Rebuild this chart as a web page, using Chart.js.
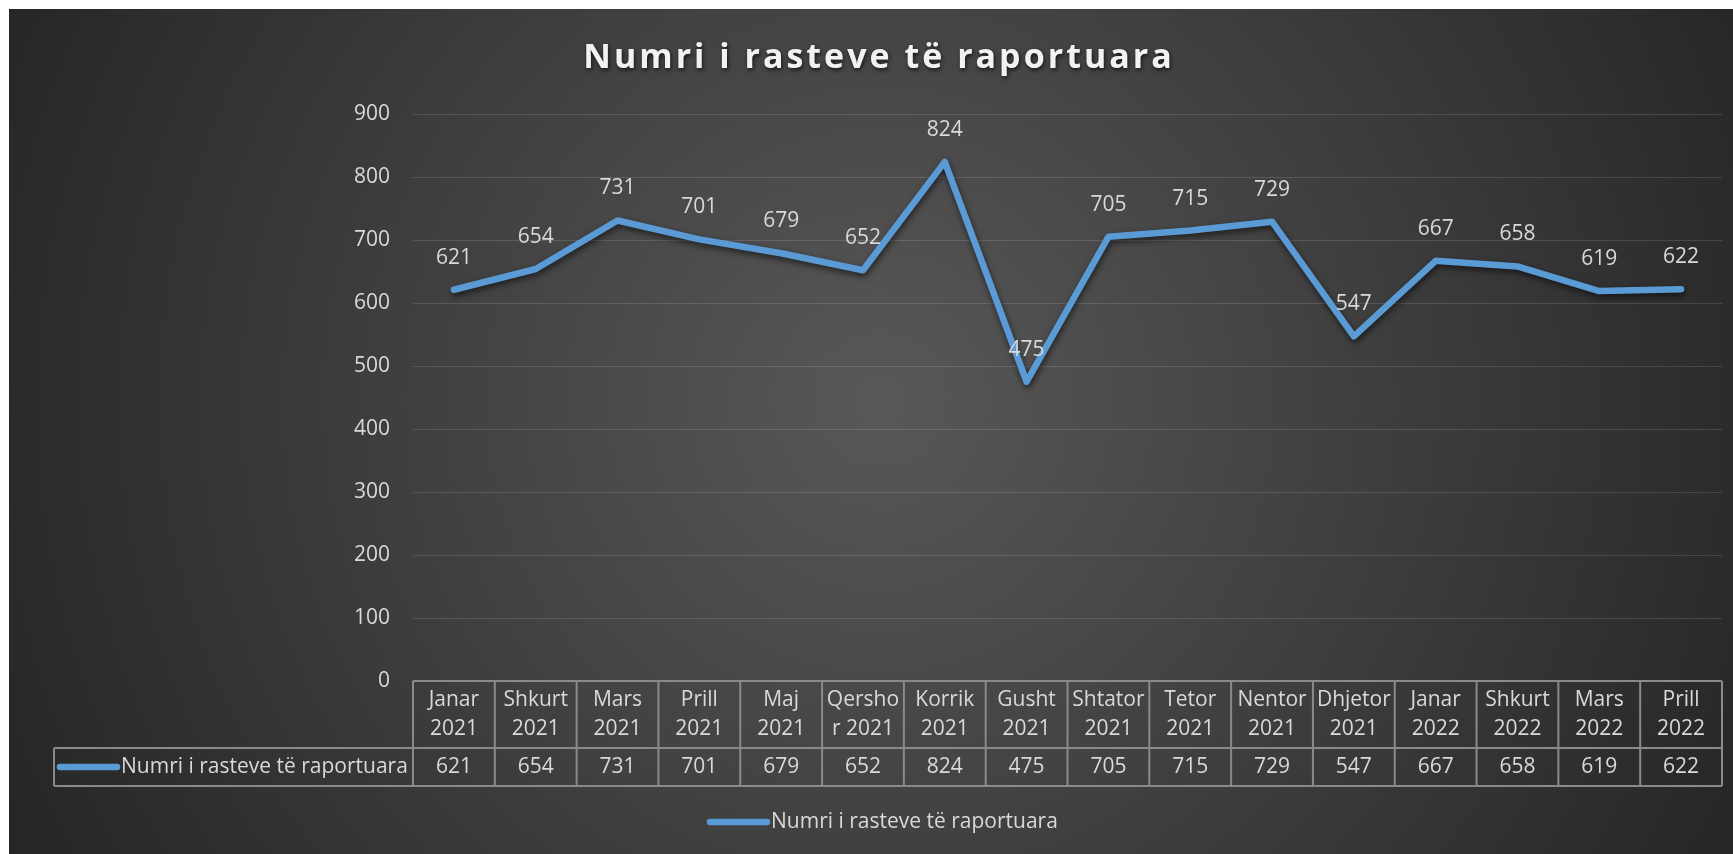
<!DOCTYPE html>
<html>
<head>
<meta charset="utf-8">
<script src="https://cdn.jsdelivr.net/npm/chart.js@4.4.1/dist/chart.umd.min.js"></script>
<style>
    html, body { margin: 0; padding: 0; background: #ffffff; }
    #lineChart { display: block; }
</style>
</head>
<body>
<canvas id="lineChart" width="1733" height="854"></canvas>
<script>
const chartTitle = "Numri i rasteve të raportuara";
const seriesName = "Numri i rasteve të raportuara";

// month labels, already split in two lines like the excel data table does it
const categories = [
    ["Janar", "2021"], ["Shkurt", "2021"], ["Mars", "2021"], ["Prill", "2021"],
    ["Maj", "2021"], ["Qersho", "r 2021"], ["Korrik", "2021"], ["Gusht", "2021"],
    ["Shtator", "2021"], ["Tetor", "2021"], ["Nentor", "2021"], ["Dhjetor", "2021"],
    ["Janar", "2022"], ["Shkurt", "2022"], ["Mars", "2022"], ["Prill", "2022"]
];
const cases = [621, 654, 731, 701, 679, 652, 824, 475, 705, 715, 729, 547, 667, 658, 619, 622];

const yMin = 0;
const yMax = 900;
const yStep = 100;

const lineColor = "#5B9BD5";
const textColor = "#d9d9d9";
const tableColor = "#8a8a8a";
const fontFamily = "'Open Sans', 'Liberation Sans', sans-serif";

// where the table rows sit (under the plot area)
const headerBottom = 748;
const tableBottom = 786;
const tableLeft = 54;

const backgroundPlugin = {
    id: "background",
    beforeDraw: (chart) => {
        const ctx = chart.ctx;
        ctx.save();
        ctx.fillStyle = "#ffffff";
        ctx.fillRect(0, 0, chart.width, chart.height);
        const grad = ctx.createRadialGradient(880, 400, 0, 880, 400, 960);
        grad.addColorStop(0, "#585858");
        grad.addColorStop(1, "#262626");
        ctx.fillStyle = grad;
        ctx.fillRect(9, 9, chart.width - 9, chart.height - 9);
        ctx.restore();
    },
    beforeDatasetDraw: (chart) => {
        const ctx = chart.ctx;
        ctx.save();
        ctx.shadowColor = "rgba(0, 0, 0, 0.6)";
        ctx.shadowBlur = 6;
        ctx.shadowOffsetX = 1;
        ctx.shadowOffsetY = 3;
    },
    afterDatasetDraw: (chart) => {
        chart.ctx.restore();
    }
};

const drawLegendKey = function (ctx, x1, x2, y) {
    ctx.save();
    ctx.strokeStyle = lineColor;
    ctx.lineWidth = 6.5;
    ctx.lineCap = "round";
    ctx.beginPath();
    ctx.moveTo(x1, y);
    ctx.lineTo(x2, y);
    ctx.stroke();
    ctx.restore();
}

const overlayPlugin = {
    id: "overlay",
    afterDraw: (chart) => {
        const ctx = chart.ctx;
        const xScale = chart.scales.x;
        const area = chart.chartArea;
        const meta = chart.getDatasetMeta(0);

        // title
        ctx.save();
        ctx.font = "bold 34px " + fontFamily;
        ctx.letterSpacing = "3px";
        ctx.textAlign = "center";
        ctx.textBaseline = "middle";
        ctx.shadowColor = "rgba(0, 0, 0, 0.7)";
        ctx.shadowBlur = 4;
        ctx.shadowOffsetX = 1;
        ctx.shadowOffsetY = 2;
        ctx.fillStyle = "#f2f2f2";
        ctx.fillText(chartTitle, 879, 58);
        ctx.restore();

        // data labels above points
        ctx.save();
        ctx.font = "21px " + fontFamily;
        ctx.fillStyle = textColor;
        ctx.textAlign = "center";
        ctx.textBaseline = "middle";
        meta.data.forEach((pt, i) => {
            ctx.fillText(String(cases[i]), pt.x, pt.y - 32);
        });
        ctx.restore();

        // data table
        const half = (xScale.getPixelForValue(1) - xScale.getPixelForValue(0)) / 2;
        const top = area.bottom;
        ctx.save();
        ctx.strokeStyle = tableColor;
        ctx.lineWidth = 2;
        ctx.beginPath();
        ctx.moveTo(area.left, top);
        ctx.lineTo(area.right, top);
        ctx.moveTo(tableLeft, headerBottom);
        ctx.lineTo(area.right, headerBottom);
        ctx.moveTo(tableLeft, tableBottom);
        ctx.lineTo(area.right, tableBottom);
        ctx.moveTo(tableLeft, headerBottom);
        ctx.lineTo(tableLeft, tableBottom);
        for (let i = 0; i <= categories.length; i++) {
            const x = xScale.getPixelForValue(i) - half;
            ctx.moveTo(x, top);
            ctx.lineTo(x, tableBottom);
        }
        ctx.stroke();

        ctx.font = "21px " + fontFamily;
        ctx.fillStyle = textColor;
        ctx.textAlign = "center";
        ctx.textBaseline = "middle";
        const rowMid = (top + headerBottom) / 2;
        const lineH = 28.6;
        categories.forEach((lines, i) => {
            const x = xScale.getPixelForValue(i);
            lines.forEach((txt, k) => {
                ctx.fillText(txt, x, rowMid + (k - (lines.length - 1) / 2) * lineH);
            });
            ctx.fillText(String(cases[i]), x, (headerBottom + tableBottom) / 2);
        });
        ctx.restore();

        // legend key inside the table
        const valueMid = (headerBottom + tableBottom) / 2;
        drawLegendKey(ctx, 60, 117, valueMid);
        ctx.save();
        ctx.font = "21px " + fontFamily;
        ctx.fillStyle = textColor;
        ctx.textBaseline = "middle";
        ctx.textAlign = "left";
        ctx.fillText(seriesName, 121, valueMid);

        // legend at the bottom
        drawLegendKey(ctx, 710, 767, 822);
        ctx.fillText(seriesName, 771, 822);
        ctx.restore();
    }
};

const ctx = document.getElementById("lineChart").getContext("2d");
const casesChart = new Chart(ctx, {
    type: "line",
    data: {
        labels: categories,
        datasets: [
            {
                label: seriesName,
                data: cases,
                borderColor: lineColor,
                backgroundColor: lineColor,
                borderWidth: 6.5,
                borderCapStyle: "round",
                borderJoinStyle: "round",
                pointRadius: 0,
                pointHoverRadius: 0,
                tension: 0,
                fill: false
            }
        ]
    },
    options: {
        responsive: false,
        animation: false,
        devicePixelRatio: 1,
        events: [],
        layout: {
            padding: { left: 0, right: 11, top: 114, bottom: 173 }
        },
        plugins: {
            legend: { display: false },
            title: { display: false },
            tooltip: { enabled: false }
        },
        scales: {
            x: {
                offset: true,
                grid: { display: false },
                border: { display: false },
                ticks: { display: false },
                afterFit: (scale) => { scale.height = 0; }
            },
            y: {
                min: yMin,
                max: yMax,
                grid: {
                    color: "rgba(255, 255, 255, 0.13)",
                    lineWidth: 1,
                    drawTicks: false
                },
                border: { display: false },
                ticks: {
                    stepSize: yStep,
                    padding: 23,
                    color: textColor,
                    font: { family: fontFamily, size: 21 }
                },
                afterFit: (scale) => { scale.width = 413; }
            }
        }
    },
    plugins: [backgroundPlugin, overlayPlugin]
});
</script>
</body>
</html>
